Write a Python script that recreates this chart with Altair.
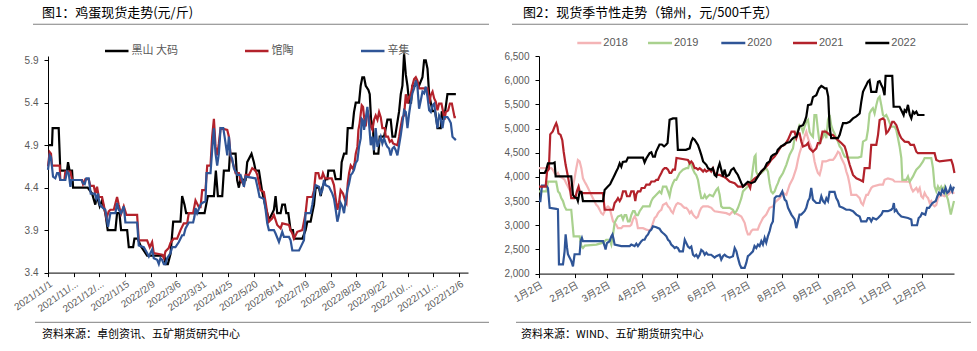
import altair as alt
import pandas as pd

L_TICK_DAYS = list(range(0, 401, 25))
L_TICK_LABELS = ["2021/11/1", "2021/11/...", "2021/12/...", "2022/1/15", "2022/2/9",
                 "2022/3/6", "2022/3/31", "2022/4/25", "2022/5/20", "2022/6/14",
                 "2022/7/9", "2022/8/3", "2022/8/28", "2022/9/22", "2022/10/...",
                 "2022/11/...", "2022/12/6"]
L_Y_TICKS = [3.4, 3.9, 4.4, 4.9, 5.4, 5.9]
L_SERIES = ["黑山 大码", "馆陶", "辛集"]
L_COLORS = ["#000000", "#b3222b", "#2f5597"]

HS_DAY = [0, 3.9, 4.5, 10.4, 12, 18.5, 19.5, 21, 23.4, 24.4, 38.6, 42.9, 46, 47.7, 50.3, 52.6, 55.8,
          58.1, 65.6, 67.2, 69.5, 71.1, 77, 78.6, 82.8, 84.1, 87.3, 89.9, 96.4, 113.3, 114.3, 116.6,
          119.2, 121.8, 128.9, 130.5, 132.8, 134.4, 152.3, 155.5, 161.4, 163.3, 165.3, 169.5, 171.1,
          176, 177, 182.5, 184, 185.7, 187.3, 192.2, 193.8, 198, 200.3, 202, 205.2, 208.4, 211.7,
          213.3, 214.9, 218.2, 219.8, 221.4, 223, 226.3, 227.9, 230.5, 231.8, 233.8, 236, 238.3,
          239.3, 247.4, 250.6, 252.3, 255.5, 257.1, 258.8, 260.4, 263.6, 265.3, 266.9, 270.1, 271.8,
          272.7, 278.2, 279.9, 284.7, 285.7, 288, 290.3, 291.6, 296.1, 297.7, 299.4, 302.6, 304.2,
          305.8, 307.5, 309.1, 311.7, 313, 314.3, 316.2, 317.2, 321.4, 322.7, 326.9, 328.6, 330.2,
          333.4, 335.1, 337.7, 339, 340.3, 341.6, 343.2, 344.8, 346.4, 348.1, 349.7, 351.3, 353.2,
          354.5, 357.1, 358.4, 361, 364.3, 365.9, 367.5, 369.2, 370.8, 372.4, 374.1, 376.6, 377.9,
          378.9, 382.1, 383.1, 384.7, 386.4, 388.6, 396.8]
HS_VAL = [4.9, 4.9, 5.1, 5.1, 4.6, 4.6, 4.7, 4.6, 4.6, 4.4, 4.4, 4.33, 4.2, 4.3, 4.18, 4.25, 4.1,
          3.9, 3.9, 4.1, 4.1, 3.9, 3.9, 3.7, 3.7, 3.8, 3.8, 3.72, 3.6, 3.6, 3.5, 3.5,
          3.62, 4.0, 4.0, 4.3, 4.2, 4.1, 4.1, 4.3, 4.3, 4.6, 4.3, 4.3, 4.6,
          4.6, 4.8, 4.8, 4.49, 4.4, 4.5, 4.49, 4.7, 4.8, 4.7, 4.6, 4.6, 4.35, 4.17,
          4.1, 4.02, 4.1, 4.14, 4.3, 4.1, 4.1, 4.2, 4.2, 4.1, 4.1, 3.9, 3.9,
          3.8, 3.8, 3.9, 4.0, 4.0, 4.1, 4.2, 4.4, 4.4, 4.3, 4.4, 4.5, 4.5,
          4.6, 4.6, 4.5, 4.5, 4.7, 4.8, 4.8, 5.1, 5.1, 5.29, 5.4, 5.4, 5.6,
          5.7, 5.7, 5.6, 5.55, 5.5, 5.2, 5.1, 4.8, 4.8, 5.0, 5.0, 5.1, 5.2,
          5.2, 5.0, 5.0, 5.1, 5.2, 5.3, 5.5, 5.6, 5.98, 5.73, 5.6, 5.4, 5.4,
          5.6, 5.6, 5.66, 5.6, 5.7, 5.9, 5.9, 5.8, 5.5, 5.4, 5.3, 5.3, 5.2,
          5.1, 5.1, 5.3, 5.2, 5.3, 5.5, 5.5]

GT_DAY = [0, 1.6, 2.9, 3.9, 11.4, 12, 15.9, 16.9, 21.8, 23.4, 33.1, 34.1, 36.4, 39.6, 41.2, 44.5,
          46.1, 47.7, 49.4, 52.6, 54.2, 56.8, 59.1, 60.7, 64, 67.2, 68.8, 71.1, 73.7, 76.3, 86.7,
          88.3, 96.4, 99, 101.3, 102.9, 111, 112.7, 114.3, 117.5, 119.2, 122.4, 125.6, 128.9, 132.1,
          135.4, 137, 141.2, 143.5, 146.8, 148.4, 150, 153.2, 154.9, 158.1, 159.7, 161.4, 163, 164.6,
          166.2, 167.9, 174.4, 176, 177.6, 180.8, 182.5, 185.7, 187.3, 190.6, 192.2, 195.5, 198.7,
          201.9, 203.6, 206.8, 210, 211.7, 213.3, 214.9, 218.2, 219.8, 223, 226.3, 227.9, 234.4, 236,
          237.7, 239.3, 242.5, 247.4, 250.6, 252.3, 257.1, 258.8, 260.4, 263, 264.3, 266.2, 267.5,
          269.5, 276, 278.2, 279.9, 281.5, 283.1, 284.7, 287, 289, 290.3, 291.6, 292.9, 294.5, 296.8,
          298.4, 299.4, 301, 302, 303.2, 305.2, 306.5, 307.5, 309.1, 310.7, 312.3, 314, 315.6, 317.2,
          318.8, 320.5, 322.1, 323.7, 325.3, 327.6, 328.6, 330.8, 332.5, 334.4, 335.7, 339.9, 341.6,
          343.2, 344.8, 346.4, 348.1, 349.7, 351.3, 353, 354.5, 356.2, 357.8, 359.4, 361, 369.2, 370.8,
          372.4, 374.1, 375.7, 377.3, 378.9, 380.5, 382.8, 384.4, 385.7, 387, 389.3, 391, 392.9, 394.2,
          395.5, 396.8]
GT_VAL = [4.65, 4.82, 4.8, 4.66, 4.66, 4.49, 4.49, 4.59, 4.59, 4.49, 4.49, 4.44, 4.5, 4.5, 4.42, 4.42,
          4.33, 4.41, 4.29, 4.29, 4.2, 4.04, 4.12, 4.14, 4.14, 4.29, 4.2, 4.09, 4.18, 4.08, 4.08,
          3.78, 3.78, 3.7, 3.76, 3.63, 3.61, 3.57, 3.65, 3.69, 3.75, 3.8, 3.8, 3.9, 3.98,
          3.98, 4.1, 4.1, 4.25, 4.17, 4.17, 4.37, 4.37, 4.66, 4.66, 5.0, 5.21, 4.88, 4.78,
          4.92, 5.1, 5.08, 5.0, 4.78, 4.65, 4.57, 4.57, 4.49, 4.43, 4.55, 4.55, 4.63,
          4.6, 4.55, 4.37, 4.35, 4.23, 4.1, 4.0, 4.04, 4.08, 3.96, 3.92, 3.98, 3.96, 3.9,
          3.86, 3.8, 3.88, 3.9, 4.1, 4.29, 4.29, 4.37, 4.57, 4.57, 4.51, 4.51, 4.57,
          4.51, 4.51, 4.43, 4.27, 4.14, 4.22, 4.37, 4.33, 4.25, 4.22, 4.45, 4.57, 4.66, 4.62,
          4.7, 4.8, 4.88, 5.08, 5.16, 5.37, 5.35, 5.23, 5.12, 5.31, 5.23, 5.12, 5.08, 5.2,
          5.25, 5.2, 5.29, 5.23, 5.1, 5.1, 5.0, 5.0, 4.94, 4.96, 4.92, 4.9, 5.0,
          5.12, 5.23, 5.25, 5.5, 5.39, 5.47, 5.5, 5.6, 5.68, 5.7, 5.66, 5.57, 5.57, 5.39,
          5.49, 5.53, 5.45, 5.41, 5.31, 5.39, 5.39, 5.29, 5.2, 5.29, 5.31, 5.39, 5.39, 5.31,
          5.23, 5.23]

XJ_DAY = [0, 1.6, 2.9, 4.9, 7.1, 8.8, 10.4, 12, 16.9, 18.5, 20.1, 21.8, 22.7, 32.5, 34.1, 35.7, 37.3,
          39.6, 41.6, 45.5, 47.1, 48.7, 50.3, 53.6, 55.8, 58.4, 60.7, 65.6, 67.2, 68.8, 71.1, 73.7,
          75.3, 86.7, 88.3, 93.2, 96.4, 98.1, 99.7, 101.3, 102.9, 106.2, 107.8, 109.4, 111, 112.7,
          114.3, 115.9, 119.2, 120.8, 124, 127.3, 130.5, 132.1, 133.8, 137, 141.2, 142.5, 143.5,
          145.1, 148.4, 150, 153.2, 154.2, 158.1, 159.7, 161.4, 163, 164.6, 166.2, 167.9, 170.5,
          171.8, 174.4, 176, 177.6, 179.2, 180.8, 182.5, 184.1, 187.3, 189, 190.6, 192.2, 201.9,
          204.5, 205.8, 210, 211.7, 213.3, 214.9, 219.8, 221.4, 224.7, 226.3, 227.9, 229.5, 234.4,
          236, 237.7, 244.2, 245.8, 249, 250.6, 255.5, 257.1, 258.8, 260.4, 263.6, 265.3, 266.9,
          268.5, 270.1, 273.4, 275, 276.6, 278.2, 279.9, 281.5, 283.1, 284.7, 286.4, 288, 289.6,
          291.2, 292.9, 294.5, 296.1, 297.7, 299.4, 301, 302.6, 304.2, 305.2, 306.5, 307.5, 309.1,
          310.7, 312.3, 314, 315.6, 317.2, 318.8, 320.5, 322.1, 323.7, 325.3, 327, 328.6, 330.2,
          331.8, 333.4, 335.1, 336.7, 338.3, 339.9, 341.6, 343.2, 344.8, 346.4, 348.1, 349.7, 351.3,
          353, 354.5, 356.2, 357.8, 359.4, 361, 362.7, 364.3, 365.9, 367.5, 369.2, 370.8, 372.4,
          374.1, 375.7, 377.3, 378.9, 380.5, 382.1, 383.8, 385.4, 388.6, 390.3, 391.9, 393.5, 395.1,
          396.8]
XJ_VAL = [4.61, 4.78, 4.76, 4.53, 4.51, 4.57, 4.57, 4.49, 4.49, 4.59, 4.57, 4.41, 4.49, 4.49, 4.45, 4.44, 4.51,
          4.51, 4.33, 4.33, 4.27, 4.33, 4.2, 4.16, 4.14, 3.94, 4.1, 4.1, 4.22, 4.14, 4.1, 4.18,
          3.99, 3.99, 3.72, 3.7, 3.63, 3.59, 3.63, 3.67, 3.57, 3.55, 3.5, 3.57, 3.55, 3.5,
          3.5, 3.57, 3.63, 3.7, 3.7, 3.76, 3.84, 3.84, 3.92, 3.99, 3.99, 4.06, 4.16,
          4.1, 4.2, 4.22, 4.24, 4.57, 4.57, 4.84, 5.1, 4.8, 4.66, 4.8, 5.1, 5.1,
          5.0, 4.78, 5.0, 4.78, 4.74, 4.63, 4.59, 4.55, 4.55, 4.49, 4.41, 4.53, 4.51,
          4.37, 4.29, 4.27, 4.14, 3.98, 3.9, 3.9, 3.86, 3.76, 3.82, 3.88, 3.82, 3.82,
          3.78, 3.66, 3.66, 3.7, 3.78, 4.1, 4.1, 4.2, 4.33, 4.43, 4.41, 4.33, 4.37,
          4.49, 4.43, 4.41, 4.37, 4.33, 4.27, 4.14, 4.0, 4.08, 4.22, 4.18, 4.1, 4.25,
          4.37, 4.45, 4.55, 4.57, 4.61, 4.69, 4.72, 4.88, 4.98, 5.21, 5.19, 5.08, 5.21,
          5.35, 5.16, 4.9, 5.0, 4.84, 5.1, 4.88, 4.94, 5.0, 4.92, 4.98, 4.92, 4.88,
          4.86, 4.78, 4.86, 4.88, 4.84, 4.78, 4.9, 5.02, 5.16, 5.31, 5.29, 5.1, 5.27,
          5.41, 5.51, 5.57, 5.66, 5.59, 5.33, 5.43, 5.53, 5.51, 5.59, 5.47, 5.31, 5.29,
          5.37, 5.39, 5.23, 5.1, 5.25, 5.21, 5.1, 5.23, 5.23, 5.2, 5.16, 5.0, 4.98,
          4.96]

R_TICK_DAYS = [0, 31, 59, 90, 120, 151, 181, 212, 243, 273, 304, 334]
R_TICK_LABELS = ["1月2日", "2月2日", "3月2日", "4月2日", "5月2日", "6月2日",
                 "7月2日", "8月2日", "9月2日", "10月2日", "11月2日", "12月2日"]
R_Y_TICKS = [2000, 2500, 3000, 3500, 4000, 4500, 5000, 5500, 6000, 6500]
R_SERIES = ["2018", "2019", "2020", "2021", "2022"]
R_COLORS = ["#f4b4b6", "#a9d18e", "#2f5597", "#b3222b", "#000000"]

Y2018_DAY = [0, 10.7, 12, 13.6, 15, 16.5, 18, 20.9, 22.3, 23.7, 25.2, 26.7, 28.1, 29.6, 31, 32.5, 33.9,
             35.4, 36.9, 38.3, 39.8, 41.2, 42.7, 44.1, 45.5, 47, 48.4, 49.9, 51.3, 52.8, 54.3, 55.8,
             57.2, 58.6, 60.1, 61.5, 63, 64.5, 65.9, 67.3, 68.8, 71.7, 73.2, 79, 80.4, 81.9, 83.3,
             84.8, 86.2, 90.6, 93.5, 96.4, 97.9, 99.3, 100.8, 102.2, 103.7, 105, 106.6, 108, 110.9,
             112.4, 113.8, 115.2, 116.7, 118.2, 119.6, 121, 123.9, 125.4, 126.8, 128.3, 129.8, 131.3,
             132.7, 134.2, 135.6, 137, 138.5, 140, 141.4, 143, 147.3, 150.2, 151.6, 153.1, 163.2,
             166.1, 169, 170.5, 173.4, 176.3, 177.7, 179.2, 180.6, 182, 183.5, 185, 186.4, 190.6,
             192.2, 193.7, 195.2, 198, 200.9, 203.8, 205.3, 206.8, 209.7, 211.1, 212.6, 215.5, 218.4,
             221.3, 224.2, 225.6, 227, 228.5, 230, 231.4, 232.9, 234.4, 235.8, 238.7, 240.1, 241.6,
             243, 244.5, 246, 247, 250, 253.2, 256.1, 257.5, 259, 260.5, 262, 263.4, 264.9, 266.3,
             267.8, 269.2, 270.7, 272.1, 276.5, 279.4, 280.8, 282.3, 283.7, 285.2, 286.6, 288, 289.5,
             290.9, 296.8, 299.7, 301.1, 304, 308.3, 309.8, 322.9, 324.4, 325.9, 328.8, 330.2, 331.7,
             333.1, 334.6, 336, 337.5, 339, 340.4, 341.8, 343.3, 344.7, 346.2, 347.6, 349, 350.5,
             353.4, 356.3, 359.2, 360.6, 362]
Y2018_VAL = [4180, 4180, 4150, 4080, 4040, 4080, 4010, 3970, 3940, 3870, 3800, 3730, 3700, 3800, 3970, 4180, 4350,
             4320, 4180, 3970, 3900, 3840, 3770, 3700, 3630, 3560, 3490, 3420, 3390, 3320, 3250, 3220,
             3290, 3360, 3390, 3360, 3220, 3080, 3050, 3010, 2940, 2940, 2980, 2980, 3010, 3120, 3180,
             3120, 2940, 2940, 2910, 2890, 2940, 3050, 3150, 3180, 3250, 3290, 3320, 3420, 3460,
             3390, 3360, 3290, 3250, 3360, 3430, 3460, 3430, 3390, 3360, 3360, 3320, 3250,
             3290, 3220, 3180, 3150, 3180, 3290, 3360, 3390, 3390, 3360, 3320, 3290, 3250,
             3220, 3290, 3250, 3220, 3180, 3120, 3050, 2910, 2810, 2810, 2880, 2910, 2910,
             3010, 3080, 3150, 3220, 3360, 3390, 3460, 3500, 3560, 3600, 3670, 3630, 3840,
             3970, 4180, 4350, 4490, 4600, 4730, 4840, 4935, 4800, 4700, 4520, 4320, 4180,
             4080, 4040, 4180, 4320, 4320, 4350, 4350, 4390, 4450, 4520, 4490, 4390, 4320, 4250,
             4110, 4010, 3840, 3630, 3630, 3560, 3460, 3420, 3530, 3630, 3630, 3700, 3770,
             3800, 3840, 3840, 3940, 3970, 3940, 3905, 3900, 3770, 3700, 3770, 3700, 3770,
             3600, 3560, 3670, 3600, 3560, 3460, 3500, 3420, 3390, 3420, 3560, 3600, 3630,
             3600, 3630, 3700, 3670, 3670]

Y2019_DAY = [0, 6.4, 7.8, 15, 16.6, 18, 19.4, 20.9, 22.3, 23.8, 28.1, 30.2, 35.4, 36.9, 38.3, 40, 50,
             56, 58.6, 61.5, 63, 64.5, 65.9, 67.3, 68.8, 71.7, 73.2, 74.6, 76, 77.5, 79, 80.4, 81.9,
             83.3, 84.8, 86.2, 87.7, 90.6, 93.5, 96.4, 97.9, 99.3, 102.2, 105, 106.6, 108, 110.9,
             112.4, 113.8, 115.2, 116.7, 118.2, 119.6, 122.5, 125.4, 128.3, 130, 131.3, 132.7, 134.2,
             135.6, 137, 138.5, 140, 141.4, 143, 144.4, 145.8, 147.3, 148.7, 151.6, 154.5, 156, 157.4,
             158.8, 160.3, 166.1, 169, 170.5, 172, 173.4, 174.9, 176.3, 177.7, 180.6, 182, 183.5, 185,
             186.4, 187.8, 188.7, 189.3, 190.6, 193.7, 196.6, 198, 199.5, 200.9, 202.3, 203.8, 205.3,
             206.8, 208.2, 209.7, 212.6, 215.5, 218.4, 221.3, 222.7, 224.2, 225.6, 227, 228.5, 230,
             231.4, 232.9, 234.4, 235.8, 237.2, 238.7, 240, 241.6, 243, 244.5, 246, 247.5, 249, 250.4,
             251.8, 253.2, 254.6, 256, 257.5, 259, 260.5, 262, 263.4, 264.9, 266.3, 269.2, 278, 280.8,
             282.3, 285.2, 286.6, 288, 289.5, 290.9, 292.4, 293.9, 295.4, 296.8, 298.3, 299.7, 301.1,
             302.6, 304, 306.9, 309.8, 311.3, 312.8, 314.2, 315.7, 316.6, 320, 321.5, 323, 325.9,
             327.3, 328.8, 331.7, 334.6, 336, 341.8, 343.3, 344.7, 346.2, 347.6, 349, 350.5, 352,
             353.4, 354.9, 356.3, 358.8, 360.2, 361.6]
Y2019_VAL = [3700, 3700, 3900, 3900, 3700, 3660, 3560, 3500, 3390, 3320, 3320, 2770, 2770, 2570, 2530, 2580, 2600,
             2640, 2700, 2700, 2600, 2810, 3050, 3120, 3180, 3210, 3120, 3210, 3210, 3080, 3080, 3210, 3290,
             3290, 3210, 3210, 3290, 3390, 3390, 3390, 3500, 3560, 3630, 3700, 3660, 3800, 3800,
             3700, 3600, 3770, 3870, 3940, 3940, 4080, 4150, 4180, 4180, 4300, 4250, 4150,
             4080, 4040, 3940, 3730, 3560, 3560, 3630, 3560, 3600, 3630, 3600, 3730, 3770, 3630,
             3390, 3360, 3360, 3320, 3250, 3290, 3360, 3460, 3560, 3700, 3770, 3800, 3870, 3940,
             4180, 4420, 4450, 4110, 4040, 4080, 4150, 4180, 4110, 3870, 3700, 3660, 3700,
             3800, 3870, 3970, 4080, 4250, 4460, 4590, 4800, 4840, 4970, 5070, 5040, 4930,
             5040, 5140, 5180, 4930, 4870, 4830, 5280, 5280, 4970, 4700, 4770, 4830, 4930, 4800,
             5180, 5280, 5070, 4970, 4900, 4800, 4730, 4630, 4590, 4490, 4420, 4400, 4400, 4420,
             4730, 4770, 4970, 5310, 5380, 5420, 5310, 5480, 5620, 5660, 5480, 5280, 5250,
             5280, 5210, 5040, 5040, 4970, 4800, 4630, 4390, 3940, 3940, 4010, 3900, 4010,
             4080, 4150, 4220, 4320, 4390, 4390, 4180, 3800, 3700, 3800, 3730, 3800, 3730,
             3800, 3630, 3530, 3220, 3360, 3500]

Y2020_DAY = [0, 1.2, 2.6, 6.4, 7.8, 9.3, 15, 16.5, 17.4, 20.9, 22.3, 23.2, 24.4, 25.2, 26.7, 28.1, 29.6,
             31, 35.4, 36.3, 37.4, 38.3, 55.8, 57.2, 58, 59.2, 61.5, 63, 64, 65, 65.9, 71.7, 79, 80.4,
             83.3, 84.8, 86.2, 87.7, 89.2, 90.6, 92, 93.5, 95, 96.4, 97.9, 99.3, 102.2, 105, 106.6, 108,
             109.5, 111, 112.4, 113.8, 115.2, 116.7, 118.2, 119.6, 121, 122.5, 125.4, 127, 128.4,
             129.8, 131.3, 132.7, 134.2, 135.6, 137, 138.5, 140, 141.4, 143, 144.4, 145.8, 147.3, 150,
             153, 154.5, 157.4, 158.8, 160.3, 161.7, 163.2, 166.1, 169, 170.5, 172, 173.3, 174.9,
             176.3, 179.2, 180.6, 182, 183.5, 186.4, 187.8, 189.3, 190.8, 192.2, 193.7, 195.1, 196.6,
             198, 199.4, 201, 202.3, 203.8, 205.3, 206.8, 209.7, 212, 214.1, 215.5, 217, 219.9, 222.8,
             224.2, 225.6, 227, 228.5, 231.4, 232.9, 234.4, 235.8, 237.2, 238.7, 241.6, 244.5, 246,
             247.5, 249, 250.4, 251.8, 253.2, 257.5, 259, 260.5, 261.9, 264.8, 267.7, 270.7, 273.6,
             276.5, 279.4, 280.8, 285.2, 286.6, 288, 289.5, 291, 293.9, 295.4, 298.3, 299.7, 304,
             306.9, 308.3, 309.2, 310, 311.3, 312.8, 315.7, 321.5, 324.4, 325, 329.4, 330.8, 332.3,
             333.7, 336.6, 338.1, 339.9, 342.8, 345.7, 347.1, 348.5, 350, 351.4, 352.9, 354.3, 355.7,
             357.2, 358.6, 360.1, 361.5]
Y2020_VAL = [3500, 3500, 3820, 3820, 3770, 3360, 3340, 3330, 2190, 2190, 2460, 2810, 2540, 2400, 2330, 2260, 2150,
             2400, 2400, 2670, 2740, 2670, 2670, 2570, 2500, 2630, 2670, 2770, 2810, 2710, 2600, 2570, 2570, 2600,
             2570, 2620, 2570, 2620, 2670, 2700, 2700, 2770, 2810, 2880, 2910, 2980, 2960, 2930, 2870, 2840,
             2810, 2770, 2700, 2670, 2600, 2570, 2530, 2550, 2530, 2460, 2460, 2700, 2630,
             2560, 2530, 2560, 2390, 2360, 2390, 2330, 2390, 2490, 2460, 2390, 2430, 2390, 2390,
             2330, 2360, 2390, 2290, 2360, 2390, 2360, 2330, 2360, 2530, 2460, 2330, 2190,
             2120, 2120, 2220, 2360, 2390, 2460, 2570, 2530, 2600, 2570, 2670, 2600, 2740,
             2640, 2770, 2880, 3010, 3080, 3560, 3600, 3600, 3700, 3530, 3500, 3360, 3220, 3120,
             2940, 3080, 3220, 3220, 3290, 3360, 3500, 3560, 3770, 3530, 3460, 3460, 3600,
             3500, 3460, 3560, 3500, 3690, 3690, 3560, 3500, 3390, 3360, 3320, 3320, 3290,
             3220, 3180, 3080, 3080, 3150, 3150, 3080, 3150, 3120, 3150, 3220, 3290, 3290,
             3320, 3360, 3460, 3290, 3320, 3250, 3180, 3150, 3120, 3000, 3000, 3150, 3180,
             3250, 3220, 3360, 3360, 3460, 3500, 3600, 3670, 3630, 3730, 3670, 3770, 3670,
             3700, 3800, 3700, 3800]

Y2021_DAY = [0, 5.8, 7, 8.6, 9.8, 12, 13.6, 15, 16, 17, 18.8, 20.3, 21.5, 23.2, 25.2, 26.7, 28.1, 31,
             32, 33, 34.5, 35.5, 36.9, 55.8, 57.2, 64.5, 65.9, 67.3, 68.8, 70.3, 71.7, 73.2, 75.5,
             76.7, 79, 80.4, 82.5, 83.9, 84.8, 86.2, 88.3, 89.4, 92, 93.5, 96.4, 97.9, 100.8, 102.2,
             103.7, 105, 106.6, 108, 109.5, 111, 112.4, 113.8, 115.2, 116.7, 118.5, 119.8, 129.8,
             131.3, 132.7, 134, 135.6, 137, 138.5, 140, 141.4, 143, 144.4, 145.8, 148.7, 150, 151.5,
             153, 154.5, 157.4, 160.3, 163.2, 166.1, 170.5, 173.4, 177.7, 182, 184, 185, 188, 190.6,
             193.7, 196.6, 199.5, 202.3, 205.3, 208.2, 211, 214, 217, 220, 222.7, 224.2, 225.6, 227,
             228.6, 230, 233, 234.4, 235.8, 238.7, 241.6, 243, 245, 247, 250, 251.8, 253.2, 256,
             257.5, 260.5, 263.4, 266.3, 267.8, 269.2, 270.7, 272.1, 273.6, 276.5, 279.4, 282.3,
             283.7, 288, 289.5, 293.9, 295.4, 296.8, 299.7, 301.1, 302.6, 304, 305.5, 307.8, 309.2,
             311.4, 312.8, 314.2, 315.7, 318.6, 322, 323.7, 326.7, 328.8, 330.2, 344.7, 346.2, 349,
             359.2, 360.6, 362]
Y2021_VAL = [3800, 3800, 4110, 4160, 4880, 4940, 5040, 5110, 5040, 4900, 4870, 4760, 4520, 4250, 4010, 3800, 3560, 3560,
             3600, 3700, 3800, 3700, 3665, 3665, 3320, 3320, 3460, 3500, 3560, 3500, 3560, 3700, 3700,
             3600, 3600, 3700, 3700, 3500, 3640, 3700, 3700, 3770, 3770, 3840, 3840, 3905, 3905, 3940,
             3940, 4010, 4080, 4150, 4180, 4180, 4150, 4080, 4080, 4150, 4150, 4390, 4350,
             4280, 4320, 4280, 4180, 4180, 4150, 4180, 4150, 4110, 4150, 4110, 4150, 4110, 4180,
             4080, 4040, 4040, 4010, 3970, 3905, 3870, 3800, 3800, 3870, 3770, 3900, 3970, 4010,
             4110, 4180, 4250, 4350, 4420, 4520, 4630, 4660, 4770, 4935, 4935, 4800, 4900, 4900,
             4730, 4630, 4660, 4700, 4590, 4520, 4590, 4700, 4700, 4935, 4935, 4900, 4870, 4870,
             4830, 4760, 4700, 4630, 4520, 4380, 4250, 4150, 4040, 3970, 3940, 3905,
             4180, 4180, 4660, 4660, 4870, 5175, 5210, 5175, 4900, 4935, 5000, 5140, 5140,
             5070, 4970, 4870, 4800, 4730, 4720, 4660, 4660, 4520, 4490, 4490, 4350, 4320,
             4350, 4250, 4080]

Y2022_DAY = [0, 5, 6.4, 7.8, 12, 13.6, 14.5, 28.1, 29.6, 31, 33, 33.9, 35.4, 37, 38.3, 55.8, 57.2, 60,
             62, 63, 64.5, 65.9, 67.3, 68.8, 70.3, 71.7, 73, 76, 77.5, 90.6, 92, 93.5, 96.4, 97.9,
             99.3, 101, 102, 105, 107, 109, 110.5, 112, 113.8, 116.7, 119.6, 121, 128, 131.3, 132.7,
             134, 135.6, 138.5, 140, 141.4, 143, 145.8, 147.3, 150, 151.5, 153, 154.5, 156, 157.4,
             158.8, 160.3, 161.7, 163.2, 165.5, 167.5, 169.6, 171.3, 173.3, 176.3, 177.7, 180.6, 182,
             185, 188, 190.8, 193.7, 196.6, 198.6, 201, 202.3, 203.9, 207, 208, 211, 213, 215.5,
             218.5, 220, 221.8, 224.2, 225.6, 227, 230, 231.4, 232.9, 234.4, 237.2, 238.7, 241.6,
             244, 246, 247.5, 249, 250.5, 252, 253.2, 254.6, 260.5, 262, 263.5, 264.9, 267.8, 270.7,
             273.6, 276.5, 279.4, 280.8, 282.3, 283.7, 285.2, 286.6, 288, 289.5, 293.9, 295.4, 296.8,
             298.3, 299.7, 301.1, 302, 307.8, 309, 314.2, 315.7, 317.7, 318.6, 320, 321.5, 323,
             324.4, 325.9, 327.3, 328.8, 330.2, 335.9]
Y2022_VAL = [4080, 4080, 4150, 4280, 4280, 4300, 4010, 4010, 3630, 3580, 3560, 3500, 3690, 3690, 3500, 3500, 3730, 3800,
             3850, 3900, 3970, 4040, 4110, 4180, 4280, 4210, 4310, 4320, 4400, 4400, 4300, 4380, 4490, 4510,
             4420, 4420, 4520, 4670, 4670, 4630, 4660, 4700, 5180, 5210, 5210, 4560, 4560, 4590, 4730,
             4800, 4770, 4660, 4560, 4455, 4320, 4250, 4180, 4150, 4180, 4040, 4010, 4180, 4280,
             4150, 4010, 4150, 4010, 4040, 4145, 4180, 4110, 4040, 3870, 3800, 3870, 3900,
             3870, 3900, 4010, 4110, 4180, 4280, 4320, 4420, 4455, 4490, 4560, 4630, 4660, 4700,
             4720, 4770, 4810, 4830, 4930, 5040, 5070, 5140, 5245, 5485, 5500, 5650, 5690,
             5830, 5880, 5860, 5830, 5830, 5660, 5040, 4800, 4800, 4870, 5000, 5110, 5110, 5140,
             5210, 5250, 5310, 5550, 5760, 5830, 5900, 5970, 6000, 5760, 5760, 5965, 5980,
             5900, 5830, 5690, 6090, 6090, 5450, 5450, 5380, 5280, 5380, 5350, 5490, 5290,
             5210, 5350, 5310, 5350, 5280, 5280]

L_LEGEND_X = [57, 197, 313]
L_LEGEND_Y = -5
R_LEGEND_X = [38.3, 109, 182.3, 254, 326.3]
R_LEGEND_Y = -13


def build(series, days, vals):
    rows = []
    for s, d, v in zip(series, days, vals):
        rows.append(pd.DataFrame({"day": d, "value": v, "series": s}))
    return pd.concat(rows, ignore_index=True)


left_df = build(L_SERIES, [HS_DAY, GT_DAY, XJ_DAY], [HS_VAL, GT_VAL, XJ_VAL])
right_df = build(R_SERIES, [Y2018_DAY, Y2019_DAY, Y2020_DAY, Y2021_DAY, Y2022_DAY],
                 [Y2018_VAL, Y2019_VAL, Y2020_VAL, Y2021_VAL, Y2022_VAL])

TICK_FONT = "Liberation Sans, Noto Sans CJK SC"
CJK_FONT = "Noto Sans CJK SC"
GRAY = "#595959"


def text_layer(s, x, y, size, color="#000000", font=CJK_FONT):
    return alt.Chart(pd.DataFrame({"t": [s]})).mark_text(
        align="left", baseline="middle", fontSize=size, color=color, font=font
    ).encode(text="t:N", x=alt.value(x), y=alt.value(y))


def bar_layer(key, x1, x2, y, color="#808080", thick=1.0):
    # each separator gets its own one-row dataset
    return alt.Chart(pd.DataFrame({"key": [key]})).mark_rect(
        color=color, strokeWidth=0
    ).encode(x=alt.value(x1), x2=alt.value(x2),
             y=alt.value(y - thick / 2), y2=alt.value(y + thick / 2))


def rule_layer(key, x1, x2, y, color="#808080", width=1.0):
    return alt.Chart(pd.DataFrame({"key": [key]})).mark_rule(
        color=color, strokeWidth=width
    ).encode(x=alt.value(x1), x2=alt.value(x2), y=alt.value(y))


def anchor_layer(x, y):
    return alt.Chart(pd.DataFrame({"t": [" "]})).mark_text(
        fontSize=1, opacity=0, align="left", baseline="middle"
    ).encode(text="t:N", x=alt.value(x), y=alt.value(y))


def legend_layers(prefix, series, colors, xs, y, font, seg=23.5, gap=3):
    layers = []
    for s, c, x in zip(series, colors, xs):
        layers.append(bar_layer(prefix + s, x, x + seg, y, color=c, thick=2.5))
        layers.append(text_layer(s, x + seg + gap, y, 11, color=GRAY, font=font))
    return layers


def axis_common(**kw):
    base = dict(title=None, grid=False, domainColor="#000000", tickColor="#000000",
                tickSize=4, labelFont=TICK_FONT, labelFontSize=10, labelColor=GRAY,
                labelOverlap=False, labelFlush=False)
    base.update(kw)
    return alt.Axis(**base)


TOP = 55.7

L_W, L_H = 420, 216.6
l_label_expr = "[" + ",".join("'%s'" % s for s in L_TICK_LABELS) + "][round(datum.value/25)]"
left_lines = alt.Chart(left_df).mark_line(strokeWidth=2.2).encode(
    x=alt.X("day:Q", scale=alt.Scale(domain=[0, 408.6], nice=False, zero=False),
            axis=axis_common(values=L_TICK_DAYS, labelExpr=l_label_expr, labelAngle=325,
                             labelPadding=2)),
    y=alt.Y("value:Q", scale=alt.Scale(domain=[3.4, 5.95], nice=False, zero=False),
            axis=axis_common(values=L_Y_TICKS, format=".1f", labelPadding=6)),
    color=alt.Color("series:N", sort=L_SERIES,
                    scale=alt.Scale(domain=L_SERIES, range=L_COLORS), legend=None),
)
left = alt.layer(
    anchor_layer(-48, 1 - TOP),
    anchor_layer(440, 350 - TOP),
    text_layer("图1：鸡蛋现货走势(元/斤)", -6, 13 - TOP, 13),
    bar_layer("L-top", -15, 441, 24 - TOP),
    left_lines,
    *legend_layers("L-", L_SERIES, L_COLORS, L_LEGEND_X, L_LEGEND_Y, CJK_FONT),
    rule_layer("L-bottom", -13, 441, 322 - TOP),
    text_layer("资料来源：卓创资讯、五矿期货研究中心", -6, 335 - TOP, 11),
).properties(width=L_W, height=L_H)

R_W, R_H = 415, 217.6
r_label_expr = ("[" + ",".join("'%s'" % s for s in R_TICK_LABELS) + "][indexof(["
                + ",".join(str(d) for d in R_TICK_DAYS) + "], datum.value)]")
right_lines = alt.Chart(right_df).mark_line(strokeWidth=2.2).encode(
    x=alt.X("day:Q", scale=alt.Scale(domain=[0, 361.6], nice=False, zero=False),
            axis=axis_common(values=R_TICK_DAYS, labelExpr=r_label_expr, labelAngle=330,
                             labelPadding=2)),
    y=alt.Y("value:Q", scale=alt.Scale(domain=[2000, 6500], nice=False, zero=False),
            axis=axis_common(values=R_Y_TICKS, format=",.0f", labelPadding=6)),
    color=alt.Color("series:N", sort=R_SERIES,
                    scale=alt.Scale(domain=R_SERIES, range=R_COLORS), legend=None),
)
right = alt.layer(
    anchor_layer(-48.7, 1 - TOP),
    anchor_layer(438, 350 - TOP),
    text_layer("图2：现货季节性走势（锦州，元/500千克）", -16, 13 - TOP, 13),
    bar_layer("R-top", -27, 429, 24 - TOP),
    right_lines,
    *legend_layers("R-", R_SERIES, R_COLORS, R_LEGEND_X, R_LEGEND_Y, TICK_FONT, seg=24, gap=2),
    rule_layer("R-bottom", -23, 432, 322 - TOP),
    text_layer("资料来源：WIND、五矿期货研究中心", -18, 335 - TOP, 11),
).properties(width=R_W, height=R_H)

chart = alt.hconcat(left, right, spacing=0).resolve_scale(
    x="independent", y="independent", color="independent"
).properties(
    padding=0, background="white"
).configure_view(stroke=None)

chart.save("out.html", embed_options={"renderer": "svg", "actions": False})
